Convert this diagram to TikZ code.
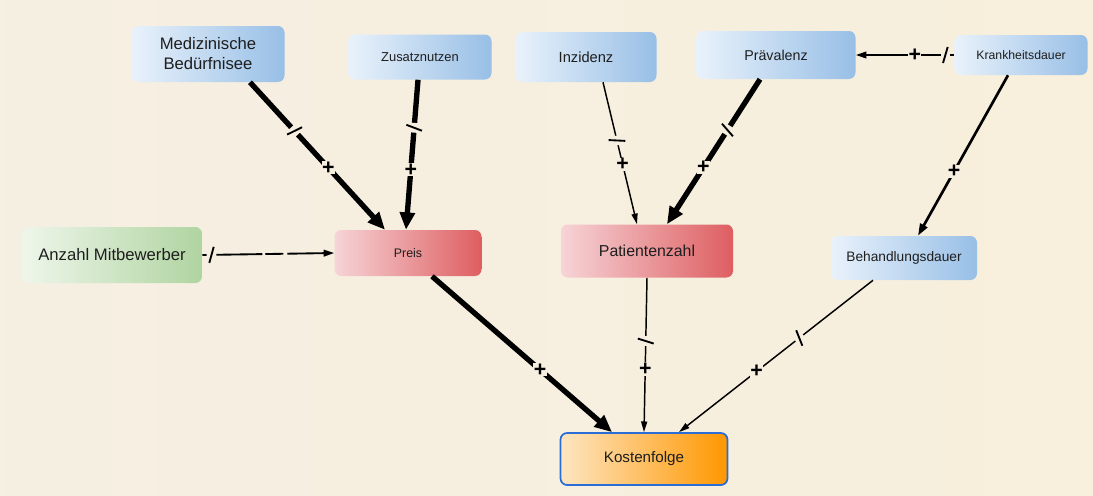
\documentclass[tikz,border=0pt]{standalone}
\usepackage{fontspec}
\setmainfont{Liberation Sans}
\usetikzlibrary{arrows.meta,calc}
\definecolor{bgL}{HTML}{F4F0E6}
\definecolor{bgR}{HTML}{F9EED8}
\definecolor{bgc}{HTML}{F6EEDF}
\definecolor{bluL}{HTML}{E9F2FB}
\definecolor{bluR}{HTML}{98BFE6}
\definecolor{redL}{HTML}{F6D4D7}
\definecolor{redR}{HTML}{DE5E61}
\definecolor{grnL}{HTML}{EEF6EA}
\definecolor{grnR}{HTML}{B0D4A1}
\definecolor{orgL}{HTML}{FDE6C2}
\definecolor{orgR}{HTML}{FF9700}
\definecolor{kborder}{HTML}{2A6DD6}
\definecolor{txt}{HTML}{1E1E1E}
\pgfdeclarehorizontalshading{paper}{100bp}{color(0bp)=(bgL); color(100bp)=(bgR)}
% the slash of a delay mark, set as the text of a sloped node
\newcommand{\delayslash}{\tikz[baseline=0pt]\draw[-, black, solid, line width=1.4pt, line cap=butt] (0pt,-6pt) -- (3.5pt,6pt);}
\begin{document}
\begin{tikzpicture}[x=0.75pt,y=-0.75pt,
  box/.style={rounded corners=5pt, align=center, text=txt, inner sep=0pt},
  bluebox/.style={box, left color=bluL, right color=bluR},
  redbox/.style={box, left color=redL, right color=redR},
  greenbox/.style={box, left color=grnL, right color=grnR},
  costbox/.style={box, left color=orgL, right color=orgR, draw=kborder, line width=1.3pt},
  fs/.style={font=\fontsize{#1}{15}\selectfont},
  heavy/.style={line width=4pt, -{Triangle[length=13pt,width=11pt]}},
  medium/.style={line width=2pt, -{Triangle[length=9pt,width=6pt]}},
  light/.style={line width=1.4pt, -{Triangle[length=8pt,width=5pt]}},
  fine/.style={line width=1.1pt, -{Triangle[length=8pt,width=4.5pt]}},
  plus/.style={fill=bgc, inner sep=0.3pt, font=\bfseries\fontsize{16}{16}\selectfont},
  dmark/.style={sloped, fill=bgc, inner xsep=1.2pt, inner ysep=0pt, anchor=center}
]
\useasboundingbox (0,0) rectangle (1093,496);
\shade[shading=paper] (0,0) rectangle (1093,496);

% factors
\node[bluebox, minimum width=114.75pt, minimum height=42pt, fs=12.5] (med) at (208,54) {Medizinische\\Bedürfnisee};
\node[bluebox, minimum width=107.25pt, minimum height=33.75pt, fs=9.7] (zus) at (420,57) {Zusatznutzen};
\node[bluebox, minimum width=105.75pt, minimum height=37.5pt, fs=11] (inz) at (586,57) {Inzidenz};
\node[bluebox, minimum width=119.25pt, minimum height=36pt, fs=10.7] (prav) at (776,55) {Prävalenz};
\node[bluebox, minimum width=99.75pt, minimum height=30pt, fs=9.2] (krank) at (1021,55) {Krankheitsdauer};
\node[greenbox, minimum width=135pt, minimum height=42pt, fs=12.5] (anz) at (112,255) {Anzahl Mitbewerber};
\node[redbox, minimum width=110.25pt, minimum height=34.5pt, fs=9.3] (preis) at (408,253) {Preis};
\node[redbox, minimum width=129pt, minimum height=39.75pt, fs=11.9] (pat) at (647,251) {Patientenzahl};
\node[bluebox, minimum width=109.5pt, minimum height=33pt, fs=10.3] (beh) at (904,258) {Behandlungsdauer};
\node[costbox, minimum width=125.25pt, minimum height=39pt, fs=11.4] (kost) at (644,459) {Kostenfolge};

% influences
\draw[heavy] ($(med.south)+(42,0)$) -- node[dmark, pos=0.33]{\delayslash} node[plus, pos=0.58]{+} ($(preis.north)+(-23,0)$);
\draw[heavy] ($(zus.south)+(-2,0)$) -- node[dmark, pos=0.32]{\delayslash} node[plus, pos=0.60]{+} ($(preis.north)+(-2,0)$);
\draw[fine] ($(inz.south)+(17,0)$) -- node[dmark, pos=0.41]{\delayslash} node[plus, pos=0.58]{+} ($(pat.north)+(-10,0)$);
\draw[heavy] ($(prav.south)+(-16,0)$) -- node[dmark, pos=0.35]{\delayslash} node[plus, pos=0.61]{+} ($(pat.north)+(20,0)$);
\draw[light] (krank.west) -- node[dmark, pos=0.09]{\delayslash} node[plus, pos=0.40]{+} (prav.east);
\draw[medium] ($(krank.south)+(-13,0)$) -- node[plus, pos=0.60]{+} ($(beh.north)+(14,0)$);
\draw[light, dash pattern=on 45pt off 2.25pt on 13.5pt off 3pt on 200pt] (anz.east) -- node[dmark, pos=0.07]{\delayslash} (preis.west);
\draw[heavy] ($(preis.south)+(24,0)$) -- node[plus, pos=0.60]{+} ($(kost.north)+(-32,0)$);
\draw[fine] (pat.south) -- node[dmark, pos=0.41]{\delayslash} node[plus, pos=0.59]{+} (kost.north);
\draw[fine] ($(beh.south)+(-31,0)$) -- node[dmark, pos=0.38]{\delayslash} node[plus, pos=0.60]{+} ($(kost.north)+(35,0)$);
\end{tikzpicture}
\end{document}
